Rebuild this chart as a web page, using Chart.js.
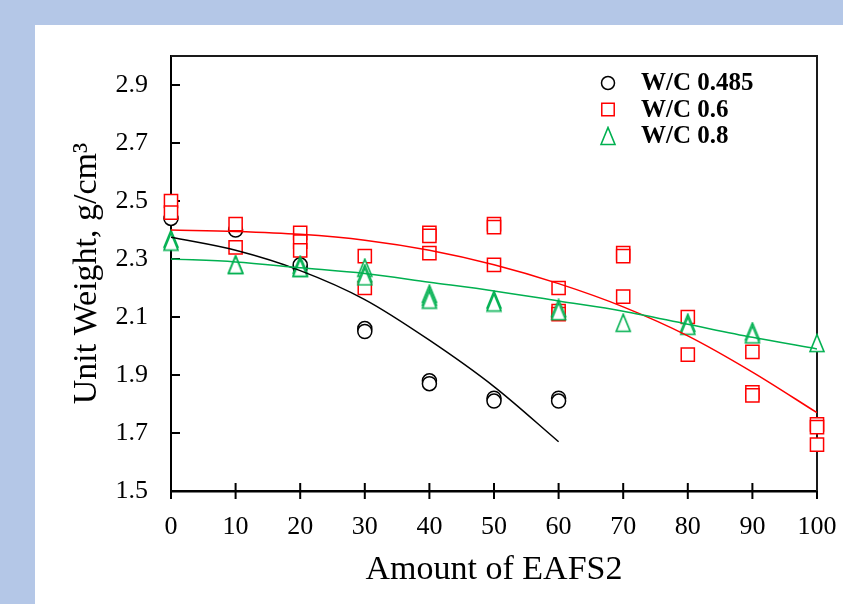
<!DOCTYPE html>
<html>
<head>
<meta charset="utf-8">
<script src="https://cdn.jsdelivr.net/npm/chart.js@4.4.1/dist/chart.umd.min.js"></script>
<style>
  html, body { margin: 0; padding: 0; background: #b4c7e7; }
  #wrap { width: 843px; height: 604px; }
</style>
</head>
<body>
<div id="wrap"><canvas id="chart" width="843" height="604"></canvas></div>
<script>
// W/C 0.485
const wc485X = [0, 10, 20, 20, 30, 30, 40, 40, 50, 50, 60, 60];
const wc485Y = [2.44, 2.40, 2.27, 2.28, 2.06, 2.05, 1.88, 1.87, 1.82, 1.81, 1.82, 1.81];
// W/C 0.6
const wc06X = [0, 0, 10, 10, 20, 20, 20, 30, 30, 40, 40, 40, 50, 50, 50, 60, 60, 60, 70, 70, 70, 80, 80, 90, 90, 90, 100, 100, 100];
const wc06Y = [2.50, 2.46, 2.42, 2.34, 2.39, 2.36, 2.33, 2.31, 2.20, 2.39, 2.38, 2.32, 2.42, 2.41, 2.28, 2.20, 2.12, 2.11, 2.32, 2.31, 2.17, 2.10, 1.97, 1.98, 1.84, 1.83, 1.73, 1.72, 1.66];
// W/C 0.8
const wc08X = [0, 0, 10, 10, 20, 20, 20, 30, 30, 30, 40, 40, 40, 50, 50, 60, 60, 70, 80, 80, 90, 90, 100];
const wc08Y = [2.37, 2.36, 2.28, 2.28, 2.28, 2.27, 2.27, 2.27, 2.25, 2.24, 2.18, 2.17, 2.16, 2.16, 2.15, 2.13, 2.12, 2.08, 2.08, 2.07, 2.05, 2.04, 2.01];

// trend lines
const fit485X = [0, 10, 20, 30, 40, 50, 60];
const fit485Y = [2.375, 2.33, 2.26, 2.16, 2.02, 1.86, 1.67];
const fitX = [0, 10, 20, 30, 40, 50, 60, 70, 80, 90, 100];
const fit06Y = [2.40, 2.395, 2.385, 2.365, 2.33, 2.28, 2.215, 2.135, 2.035, 1.91, 1.77];
const fit08Y = [2.30, 2.29, 2.27, 2.25, 2.22, 2.19, 2.155, 2.12, 2.075, 2.03, 1.99];

const yTicks = [1.5, 1.7, 1.9, 2.1, 2.3, 2.5, 2.7, 2.9];
const legendLabels = ["W/C 0.485", "W/C 0.6", "W/C 0.8"];

const RED = "#ff0000";
const GREEN = "#00b050";
const FONT = "'Liberation Serif', 'Times New Roman', serif";
const legendColors = ["#000", RED, GREEN];

function pairs(xs, ys) {
  return xs.map((x, i) => ({ x: x, y: ys[i] }));
}

// excel-like triangle marker (taller than wide)
function makeTriangle() {
  const c = document.createElement("canvas");
  c.width = 18;
  c.height = 20;
  const g = c.getContext("2d");
  g.beginPath();
  g.moveTo(2, 18.5);
  g.lineTo(9, 1.5);
  g.lineTo(16, 18.5);
  g.closePath();
  g.fillStyle = "#fff";
  g.fill();
  g.lineWidth = 1.6;
  g.strokeStyle = GREEN;
  g.stroke();
  return c;
}
const triangle = makeTriangle();

const bgPlugin = {
  id: "bg",
  beforeDraw(chart) {
    const ctx = chart.ctx;
    ctx.save();
    ctx.fillStyle = "#b4c7e7";
    ctx.fillRect(0, 0, chart.width, chart.height);
    ctx.fillStyle = "#fff";
    ctx.fillRect(35, 25, chart.width - 35, chart.height - 25);
    ctx.restore();
  }
};

// inward y ticks, crossing x ticks, top/right frame
const framePlugin = {
  id: "frame",
  beforeDatasetsDraw(chart) {
    const { ctx, chartArea: a, scales } = chart;
    ctx.save();
    ctx.strokeStyle = "#000";
    ctx.lineWidth = 2;
    ctx.beginPath();
    yTicks.forEach((v) => {
      const y = scales.y.getPixelForValue(v);
      ctx.moveTo(a.left, y);
      ctx.lineTo(a.left + 9, y);
    });
    scales.x.ticks.forEach((t) => {
      const x = scales.x.getPixelForValue(t.value);
      ctx.moveTo(x, a.bottom - 8);
      ctx.lineTo(x, a.bottom + 8);
    });
    ctx.stroke();
    ctx.strokeStyle = "#1a1a1a";
    ctx.lineWidth = 2;
    ctx.beginPath();
    ctx.moveTo(a.left, a.top);
    ctx.lineTo(a.right, a.top);
    ctx.lineTo(a.right, a.bottom);
    ctx.stroke();
    ctx.restore();
  }
};

const legendPlugin = {
  id: "insideLegend",
  afterDraw(chart) {
    const { ctx, chartArea: a } = chart;
    ctx.save();
    ctx.font = "bold 25px " + FONT;
    ctx.textBaseline = "middle";
    chart.data.datasets.forEach((d) => {
      if (d.legendRow === undefined) return;
      const y = a.top + 27 + d.legendRow * 26.5;
      const x = a.left + 437;
      ctx.strokeStyle = legendColors[d.legendRow];
      ctx.fillStyle = "#fff";
      ctx.lineWidth = 1.5;
      Chart.helpers.drawPoint(ctx, {
        pointStyle: d.pointStyle,
        radius: d.legendRadius,
        borderWidth: 1.5,
        rotation: 0
      }, x, y);
      ctx.fillStyle = "#000";
      ctx.fillText(legendLabels[d.legendRow], x + 33, y + 1);
    });
    ctx.restore();
  }
};

const ctx = document.getElementById("chart").getContext("2d");

new Chart(ctx, {
  type: "scatter",
  data: {
    datasets: [
      {
        label: "W/C 0.485",
        data: pairs(wc485X, wc485Y),
        pointStyle: "circle",
        pointRadius: 7,
        legendRadius: 6.5,
        pointBorderWidth: 1.5,
        borderColor: "#000",
        backgroundColor: "#fff",
        legendRow: 0,
        clip: false,
        order: 5
      },
      {
        label: "W/C 0.6",
        data: pairs(wc06X, wc06Y),
        pointStyle: "rect",
        pointRadius: 9.3,
        legendRadius: 8.8,
        pointBorderWidth: 1.5,
        borderColor: RED,
        backgroundColor: "#fff",
        legendRow: 1,
        clip: false,
        order: 4
      },
      {
        label: "W/C 0.8",
        data: pairs(wc08X, wc08Y),
        pointStyle: triangle,
        pointRadius: 9,
        legendRadius: 9,
        borderColor: GREEN,
        backgroundColor: "#fff",
        legendRow: 2,
        clip: false,
        order: 3
      },
      {
        label: "fit 0.485",
        data: pairs(fit485X, fit485Y),
        showLine: true,
        pointRadius: 0,
        borderColor: "#000",
        borderWidth: 1.5,
        cubicInterpolationMode: "monotone",
        order: 2
      },
      {
        label: "fit 0.6",
        data: pairs(fitX, fit06Y),
        showLine: true,
        pointRadius: 0,
        borderColor: RED,
        borderWidth: 1.5,
        cubicInterpolationMode: "monotone",
        order: 1
      },
      {
        label: "fit 0.8",
        data: pairs(fitX, fit08Y),
        showLine: true,
        pointRadius: 0,
        borderColor: GREEN,
        borderWidth: 1.5,
        cubicInterpolationMode: "monotone",
        order: 0
      }
    ]
  },
  options: {
    responsive: false,
    animation: false,
    layout: { autoPadding: false, padding: { top: 56, right: 26, left: 0, bottom: 0 } },
    plugins: {
      legend: { display: false },
      tooltip: { enabled: false }
    },
    scales: {
      x: {
        type: "linear",
        min: 0,
        max: 100,
        ticks: {
          stepSize: 10,
          color: "#000",
          padding: 5,
          font: { family: FONT, size: 26 },
          maxRotation: 0
        },
        // tick marks are drawn by framePlugin, tickLength only pushes labels down
        grid: { display: false, drawTicks: true, tickLength: 16 },
        border: { display: true, color: "#000", width: 2.5 },
        title: {
          display: true,
          text: "Amount of EAFS2",
          color: "#000",
          font: { family: FONT, size: 34 },
          padding: { top: 0, bottom: 14 }
        },
        afterFit(scale) { scale.height = 113; }
      },
      y: {
        type: "linear",
        min: 1.5,
        max: 3.0,
        afterBuildTicks(scale) {
          scale.ticks = yTicks.map((v) => ({ value: v }));
        },
        ticks: {
          color: "#000",
          padding: 23,
          font: { family: FONT, size: 26 },
          callback: (v) => v.toFixed(1)
        },
        grid: { display: false, drawTicks: false },
        border: { display: true, color: "#000", width: 2 },
        title: {
          display: true,
          text: "Unit Weight, g/cm³",
          color: "#000",
          font: { family: FONT, size: 34 },
          padding: { top: 67, bottom: 0 }
        },
        afterFit(scale) { scale.width = 171; }
      }
    }
  },
  plugins: [bgPlugin, framePlugin, legendPlugin]
});
</script>
</body>
</html>
